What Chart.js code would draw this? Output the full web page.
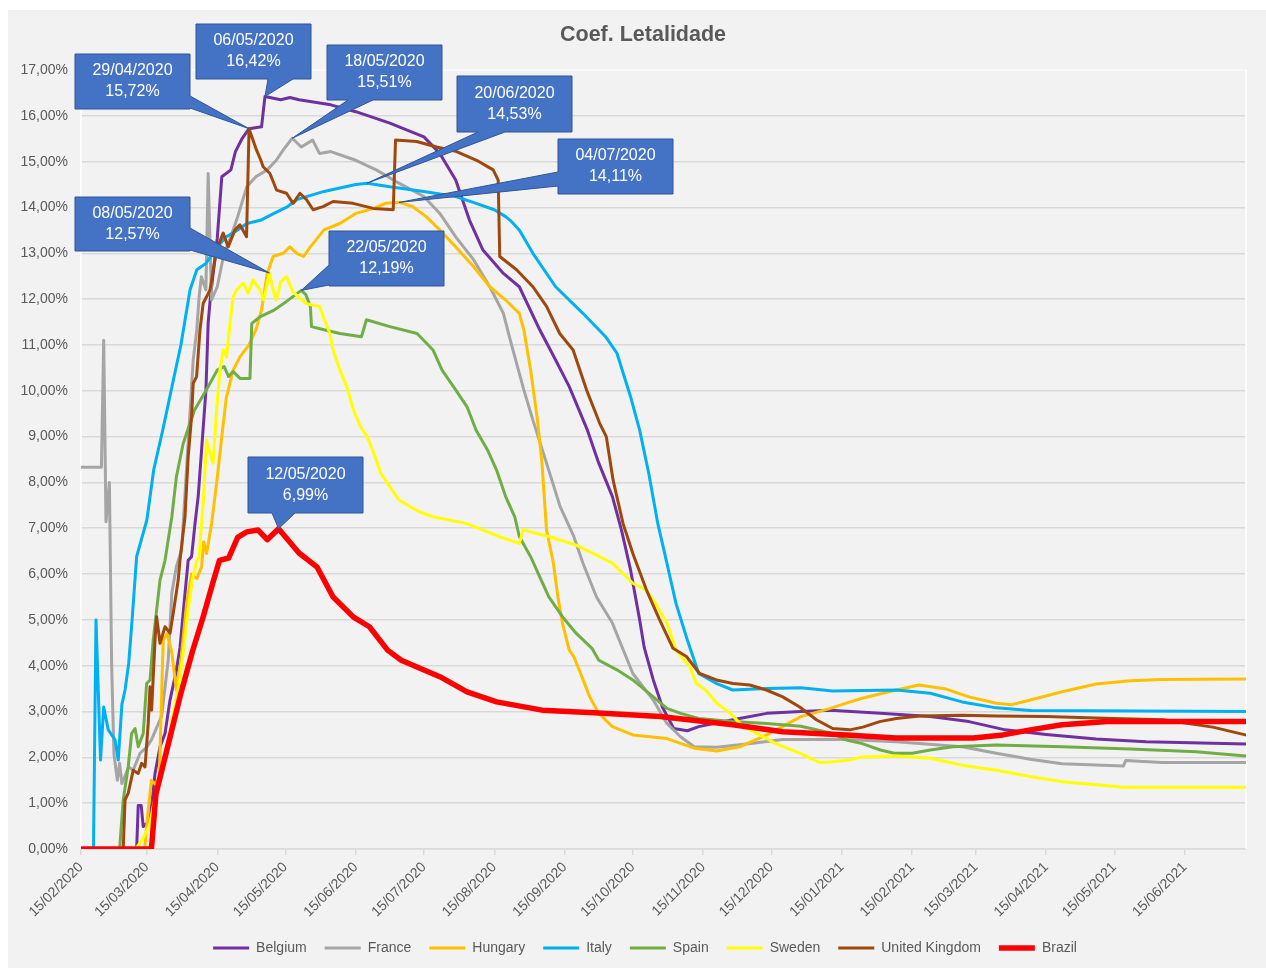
<!DOCTYPE html>
<html><head><meta charset="utf-8">
<script src="https://cdn.jsdelivr.net/npm/chart.js@4.4.1/dist/chart.umd.min.js"></script>
<style>html,body{margin:0;padding:0;background:#fff;}</style>
</head><body>
<canvas id="c" width="1266" height="969"></canvas>
<script>
// ---------- DATA (x = days since 15/02/2020, y = % lethality) ----------
const START_DATE = '15/02/2020';
const TICK_LABELS = ['15/02/2020','15/03/2020','15/04/2020','15/05/2020','15/06/2020','15/07/2020','15/08/2020','15/09/2020','15/10/2020','15/11/2020','15/12/2020','15/01/2021','15/02/2021','15/03/2021','15/04/2021','15/05/2021','15/06/2021'];
const LAST_DAY = 513;

const BELGIUM = [[0,0],[24.5,0],[25.2,0.95],[26.5,0.95],[27.4,0.49],[30.4,0.63],[32.6,1.65],[34.8,2.23],[37,2.52],[39.2,3.25],[42,3.9],[43.6,4.4],[45.8,5.58],[47.2,6.3],[48.7,6.38],[50.2,7.1],[51.6,7.69],[53.1,8.71],[55,10.0],[56,11.48],[57,12.05],[60,13.33],[62,14.67],[66,14.82],[68,15.22],[71,15.51],[74,15.72],[79.5,15.76],[81,16.42],[88,16.35],[92,16.4],[96,16.35],[110,16.24],[121,16.09],[136,15.84],[151,15.54],[158,15.18],[165,14.6],[171,13.73],[177,13.07],[186,12.56],[193,12.27],[202,11.33],[209,10.67],[215,10.09],[223,9.14],[228,8.42],[234,7.69],[238,6.96],[242,6.09],[246,5.0],[248,4.4],[252,3.69],[256,3.1],[261,2.63],[267,2.58],[272,2.67],[287,2.82],[302,2.96],[317,3.0],[330,3.03],[352,2.96],[374,2.89],[391,2.78],[407,2.6],[425,2.5],[447,2.4],[469,2.34],[513,2.29]];

const FRANCE = [[0,8.33],[9,8.33],[10,11.1],[11,7.14],[12.5,8.0],[13.5,4.0],[14.5,2.08],[16,1.5],[17,1.87],[18,1.43],[21,1.79],[23,1.72],[26,2.09],[29,2.23],[31,2.38],[35.5,2.9],[38.4,4.12],[40,5.59],[42,6.16],[44.3,6.53],[49.4,10.67],[51,11.33],[52,12.05],[53,12.49],[55,12.2],[56,14.74],[57.5,11.98],[60,12.27],[63,13.0],[66,13.36],[69,13.8],[73,14.45],[77,14.67],[82,14.82],[86,15.03],[89,15.25],[93,15.51],[97,15.32],[102,15.47],[105,15.18],[110,15.22],[121,15.03],[130,14.82],[140,14.53],[151,14.24],[158,13.87],[165,13.36],[173,12.85],[180,12.27],[186,11.69],[189,11.11],[195,10.02],[199,9.36],[205,8.42],[211,7.47],[217,6.82],[221,6.24],[227,5.5],[234,4.93],[237,4.56],[243,3.83],[252,3.25],[258,2.74],[264,2.45],[270,2.23],[280,2.22],[295,2.3],[309,2.39],[337,2.39],[359,2.34],[388,2.23],[403,2.09],[418,1.96],[432,1.86],[459,1.81],[460,1.93],[476,1.89],[513,1.89]];

const HUNGARY = [[0,0],[28,0],[29.5,0.8],[31,1.5],[33,1.4],[34.5,1.6],[36.2,4.56],[38,4.7],[40,4.28],[42,3.47],[44,4.1],[46.5,5.36],[48.7,6.0],[51,5.9],[53.1,6.16],[54,6.7],[55.3,6.45],[57.5,7.1],[60,8.1],[62,9.0],[64,9.85],[67,10.45],[70,10.74],[74,11.0],[77,11.33],[79.5,11.76],[82,12.56],[84.6,12.93],[89,13.0],[92,13.14],[95,13.0],[98,12.93],[101,13.14],[107,13.51],[114,13.65],[121,13.87],[129,13.98],[134,14.09],[140,14.11],[146,14.02],[152,13.8],[158,13.51],[165,13.14],[173,12.7],[180,12.27],[187,11.98],[193,11.69],[195,11.33],[198,10.45],[201,9.36],[203,8.42],[205,6.96],[208,6.24],[210,5.5],[212,4.93],[215,4.34],[217,4.2],[220,3.83],[224,3.32],[228,2.96],[234,2.67],[243,2.49],[258,2.41],[270,2.2],[280,2.14],[290,2.23],[302,2.49],[317,2.89],[330,3.07],[338,3.2],[344,3.29],[359,3.47],[369,3.58],[381,3.49],[391,3.32],[403,3.18],[410,3.15],[418,3.25],[432,3.43],[447,3.6],[462,3.67],[476,3.7],[513,3.71]];

const ITALY = [[0,0],[5.5,0],[6.6,5.0],[8.6,1.94],[10,3.1],[12,2.6],[15,2.38],[16.4,1.94],[18,3.15],[19.4,3.47],[21,4.05],[22.5,5.0],[24.5,6.38],[29,7.18],[32,8.27],[36,9.14],[41,10.31],[44,11.0],[48,12.2],[51,12.64],[55,12.78],[60,13.14],[64,13.36],[69,13.51],[73,13.65],[79,13.72],[85,13.87],[91,14.02],[95,14.17],[107,14.35],[121,14.5],[126,14.53],[136,14.45],[151,14.35],[165,14.24],[174,14.09],[182,13.95],[187,13.8],[189,13.72],[193,13.51],[199,13.0],[209,12.27],[221,11.69],[231,11.18],[236,10.82],[242,9.87],[246,9.14],[250,8.2],[254,7.1],[258,6.24],[262,5.36],[267,4.56],[272,3.83],[280,3.61],[287,3.47],[302,3.5],[317,3.52],[331,3.45],[359,3.47],[374,3.4],[388,3.21],[403,3.08],[418,3.02],[513,3.0]];

const SPAIN = [[0,0],[17,0],[18.6,1.07],[20.8,1.8],[22.3,2.52],[23.8,2.63],[25.2,2.23],[27.4,2.52],[28.9,3.61],[30.4,3.69],[31.8,4.56],[34.8,5.87],[37,6.3],[40,7.25],[42,8.12],[45,8.85],[48,9.29],[50,9.58],[55,10.0],[60,10.45],[63,10.53],[65,10.31],[67,10.42],[70,10.27],[74.4,10.27],[75.2,11.47],[79,11.62],[85,11.76],[90.5,11.95],[97,12.19],[99,12.1],[101,11.84],[101.5,11.4],[107,11.33],[114,11.25],[123.5,11.18],[125.7,11.55],[136,11.4],[148,11.25],[155,10.89],[159,10.45],[165,10.02],[170,9.65],[174,9.14],[179,8.71],[183,8.27],[187,7.69],[191,7.25],[193,6.82],[198,6.38],[202,5.94],[206,5.5],[212,5.07],[218,4.71],[225,4.38],[228,4.12],[236,3.91],[243,3.69],[252,3.32],[258,3.07],[264,2.96],[272,2.85],[287,2.78],[302,2.74],[317,2.68],[331,2.52],[337,2.38],[344,2.3],[352,2.16],[358,2.09],[366,2.09],[374,2.16],[384,2.23],[403,2.27],[432,2.23],[462,2.18],[491,2.12],[513,2.03]];

const SWEDEN = [[0,0],[24,0],[27,0.2],[30,0.49],[33,1.22],[37,1.94],[40,2.82],[43,3.54],[45,4.27],[47,5.14],[49,5.87],[51,6.3],[52,6.38],[54,7.69],[55.3,8.93],[56.8,8.63],[58.2,8.42],[59.7,9.58],[61.2,10.45],[62.6,10.89],[64.1,10.74],[65.6,11.47],[67,12.05],[68.5,12.2],[71.4,12.35],[73.6,12.13],[75.8,12.42],[78.8,12.2],[80.5,11.98],[83,12.57],[84.6,12.2],[86,11.98],[88,12.38],[90.5,12.49],[93.4,12.15],[99.3,11.9],[105,11.84],[109.6,11.25],[111,10.89],[114,10.45],[117,10.09],[120,9.58],[123,9.22],[126,9.0],[129,8.63],[132,8.2],[136,7.91],[140,7.62],[145,7.47],[149,7.36],[155,7.25],[170,7.1],[184,6.82],[193,6.67],[194.7,6.96],[206,6.82],[218,6.63],[225.5,6.45],[234,6.24],[243,5.8],[249,5.65],[253,5.36],[258,4.93],[262,4.34],[268,3.98],[271,3.61],[275,3.47],[280,3.18],[286,2.96],[291.5,2.67],[299,2.49],[306,2.3],[316.5,2.09],[325,1.89],[330,1.9],[338,1.94],[344,2.01],[359,2.03],[374,1.98],[388,1.83],[403,1.72],[418,1.58],[432,1.47],[447,1.4],[459,1.35],[513,1.35]];

const UNITED_KINGDOM = [[0,0],[18.6,0],[19.4,1.07],[20.8,1.22],[23,1.72],[25.2,1.65],[26.7,1.87],[28.2,1.79],[29.6,2.74],[30.4,3.54],[31.1,3.03],[32.6,4.56],[33.3,5.07],[34.8,4.49],[37,4.85],[39.2,4.71],[40.6,5.14],[42.8,5.87],[43.6,6.31],[45.8,7.25],[47.2,8.56],[48.7,9.44],[49.4,10.16],[50.9,10.31],[52.4,11.33],[53.8,11.91],[55.3,12.05],[56.8,12.2],[59.7,13.07],[62.6,13.44],[64.8,13.14],[67.8,13.51],[70,13.62],[72.9,13.36],[74,15.72],[77.3,15.25],[79.2,15.03],[80.2,14.89],[83.2,14.74],[86.1,14.38],[90.5,14.31],[93.4,14.09],[96.4,14.31],[99.3,14.17],[102.2,13.95],[106.6,14.02],[111,14.13],[119.8,14.09],[128.7,13.98],[137.5,13.95],[138.5,15.47],[147.8,15.44],[156.6,15.32],[165.4,15.22],[174.2,15.03],[181.5,14.82],[183.7,14.6],[184.4,12.93],[191.8,12.64],[199,12.27],[205,11.84],[210.8,11.25],[216.7,10.89],[222.6,10.02],[228.4,9.29],[231.3,9.0],[234.3,8.05],[238.7,7.1],[243,6.45],[249,5.65],[254.8,5.0],[260.7,4.38],[266.6,4.2],[272.4,3.83],[279.8,3.69],[287.1,3.61],[294.5,3.58],[301.8,3.47],[309,3.32],[316.5,3.1],[323.8,2.82],[331,2.63],[338.5,2.6],[344.3,2.66],[351.7,2.78],[359,2.85],[369.3,2.9],[388.3,2.92],[403,2.9],[425,2.89],[454.4,2.85],[476.4,2.82],[498.4,2.66],[512.7,2.49]];

const BRAZIL = [[0,0],[31,0],[33,1.2],[39,2.4],[44,3.4],[49,4.3],[54,5.1],[58,5.8],[61,6.3],[65,6.35],[69,6.8],[73,6.92],[78,6.96],[82,6.75],[87,6.99],[96,6.46],[104,6.15],[111,5.5],[120,5.06],[127,4.85],[135,4.34],[141,4.12],[158,3.76],[170,3.43],[183,3.21],[203,3.03],[228,2.97],[255,2.89],[287,2.71],[309,2.56],[337,2.49],[359,2.42],[393,2.42],[406,2.49],[418,2.6],[432,2.71],[452,2.78],[513,2.78]];

const SERIES_NAMES = ['Belgium','France','Hungary','Italy','Spain','Sweden','United Kingdom','Brazil'];
const SERIES_DATA = [BELGIUM, FRANCE, HUNGARY, ITALY, SPAIN, SWEDEN, UNITED_KINGDOM, BRAZIL];

// callout annotations (date + value shown)
const CALLOUT_DATES  = ['29/04/2020','06/05/2020','18/05/2020','20/06/2020','04/07/2020','08/05/2020','22/05/2020','12/05/2020'];
const CALLOUT_VALUES = [15.72, 16.42, 15.51, 14.53, 14.11, 12.57, 12.19, 6.99];

// ---------- STYLE / LAYOUT ----------
const SERIES_COLORS = ['#7030A0','#A5A5A5','#FFC000','#00B0F0','#70AD47','#FFFF00','#9E480E','#FF0000'];
const SERIES_WIDTHS = [3,3,3,3,3,3,3,5.5];
// box [x, y, w, h], wedge edge, wedge base positions along that edge
const CALLOUT_LAYOUT = [
  {box:[75,54,115,55], edge:'right', base:[96,108]},
  {box:[196,24,115,55], edge:'bottom', base:[268,293]},
  {box:[327,45,115,55], edge:'bottom', base:[348,373]},
  {box:[457,76,115,56], edge:'bottom', base:[478,505]},
  {box:[558,139,115,55], edge:'left', base:[172,186]},
  {box:[75,197,115,54], edge:'right', base:[228,250]},
  {box:[329,231,115,55], edge:'left', base:[265,285]},
  {box:[248,457,115,56], edge:'bottom', base:[272,295]}
];
const TITLE_SHIFT = 20, LEGEND_SHIFT = 22;
const FONT = "'Liberation Sans', Arial, sans-serif";
const TEXT_COLOR = '#595959';
const GRID_COLOR = '#d9d9d9';

function dayOf(s){
  const p = s.split('/').map(Number), q = START_DATE.split('/').map(Number);
  return (Date.UTC(p[2],p[1]-1,p[0]) - Date.UTC(q[2],q[1]-1,q[0])) / 86400000;
}
function pct(v){ return v.toFixed(2).replace('.',',') + '%'; }

const bgPlugin = {
  id:'bg',
  afterLayout(chart){
    if (chart.titleBlock){ chart.titleBlock.left += TITLE_SHIFT; chart.titleBlock.right += TITLE_SHIFT; }
    if (chart.legend){ chart.legend.left += LEGEND_SHIFT; chart.legend.right += LEGEND_SHIFT; }
  },
  beforeDraw(chart){
    const c = chart.ctx;
    c.save();
    c.fillStyle = '#ffffff'; c.fillRect(0,0,chart.width,chart.height);
    c.fillStyle = '#f2f2f2'; c.fillRect(8,10,chart.width-8,chart.height-11);
    c.restore();
  },
  beforeDatasetsDraw(chart){
    const a = chart.chartArea, c = chart.ctx;
    c.save();
    c.strokeStyle = '#ffffff'; c.lineWidth = 1.5;
    c.beginPath();
    c.moveTo(a.left, a.bottom); c.lineTo(a.left, a.top); c.lineTo(a.right, a.top); c.lineTo(a.right, a.bottom);
    c.stroke();
    c.restore();
  }
};

const calloutPlugin = {
  id:'callouts',
  afterDatasetsDraw(chart){
    const c = chart.ctx, xs = chart.scales.x, ys = chart.scales.y;
    c.save();
    CALLOUT_DATES.forEach((d,i)=>{
      const L = CALLOUT_LAYOUT[i];
      const [x,y,w,h] = L.box;
      const tx = xs.getPixelForValue(dayOf(d)), ty = ys.getPixelForValue(CALLOUT_VALUES[i]);
      const [b1,b2] = L.base;
      c.beginPath();
      c.moveTo(x,y); c.lineTo(x+w,y);
      if (L.edge==='right'){ c.lineTo(x+w,b1); c.lineTo(tx,ty); c.lineTo(x+w,b2); }
      c.lineTo(x+w,y+h);
      if (L.edge==='bottom'){ c.lineTo(b2,y+h); c.lineTo(tx,ty); c.lineTo(b1,y+h); }
      c.lineTo(x,y+h);
      if (L.edge==='left'){ c.lineTo(x,b2); c.lineTo(tx,ty); c.lineTo(x,b1); }
      c.closePath();
      c.fillStyle = '#4472C4'; c.fill();
      c.strokeStyle = '#2F5597'; c.lineWidth = 1; c.stroke();
      c.fillStyle = '#ffffff';
      c.font = '16px ' + FONT;
      c.textAlign = 'center'; c.textBaseline = 'middle';
      c.fillText(d, x+w/2, y+h*0.31);
      c.fillText(pct(CALLOUT_VALUES[i]), x+w/2, y+h*0.69);
    });
    c.restore();
  }
};

const datasets = SERIES_NAMES.map((name,i)=>({
  label: name,
  data: SERIES_DATA[i].map(p=>({x:p[0], y:p[1]})),
  borderColor: SERIES_COLORS[i],
  backgroundColor: SERIES_COLORS[i],
  borderWidth: SERIES_WIDTHS[i],
  pointRadius: 0,
  tension: 0,
  borderJoinStyle: 'round',
  borderCapStyle: 'round',
  fill: false,
  order: SERIES_NAMES.length - 1 - i
}));

new Chart(document.getElementById('c'), {
  type: 'line',
  data: { datasets },
  options: {
    responsive: false,
    animation: false,
    layout: { padding: { left: 0, right: 20, top: 0, bottom: 4 } },
    scales: {
      x: {
        type: 'linear',
        min: 0, max: LAST_DAY,
        afterBuildTicks(scale){ scale.ticks = TICK_LABELS.map(l=>({value: dayOf(l)})); },
        afterFit(scale){ scale.height = 74; },
        ticks: {
          autoSkip: false, maxRotation: 45, minRotation: 45, padding: 4,
          color: TEXT_COLOR, font: { family: FONT, size: 14 },
          callback: (v, i) => TICK_LABELS[i]
        },
        grid: { drawOnChartArea: false, drawTicks: true, tickLength: 6, color: GRID_COLOR, lineWidth: 1.5 },
        border: { display: true, color: GRID_COLOR, width: 1.5 }
      },
      y: {
        min: 0, max: 17,
        afterFit(scale){ scale.width = 81; },
        ticks: { stepSize: 1, padding: 13, color: TEXT_COLOR, font: { family: FONT, size: 14 }, callback: v => pct(v) },
        grid: { color: GRID_COLOR, lineWidth: 1.5, drawTicks: false },
        border: { display: false }
      }
    },
    plugins: {
      title: {
        display: true, text: 'Coef. Letalidade', color: TEXT_COLOR,
        font: { family: FONT, size: 21.5, weight: 'bold', lineHeight: 1.2 },
        padding: { top: 22, bottom: 22.2 }
      },
      legend: {
        position: 'bottom',
        labels: {
          usePointStyle: true, pointStyle: 'line', pointStyleWidth: 36,
          color: TEXT_COLOR, font: { family: FONT, size: 14 }, padding: 18,
          sort: (a,b) => a.datasetIndex - b.datasetIndex
        }
      },
      tooltip: { enabled: false }
    }
  },
  plugins: [bgPlugin, calloutPlugin]
});
</script>
</body></html>
